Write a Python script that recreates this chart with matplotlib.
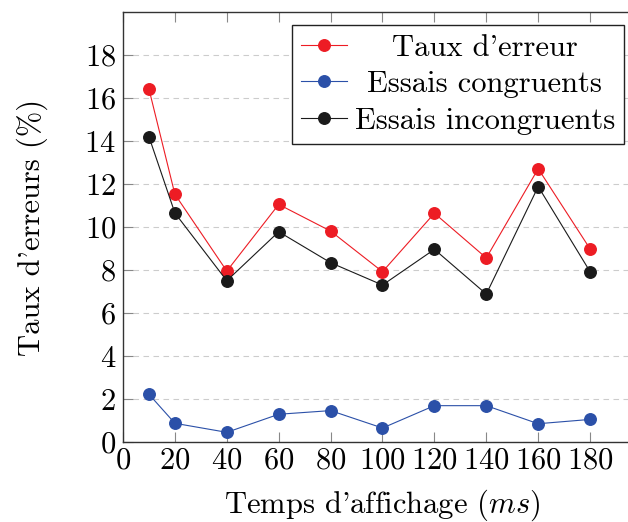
import matplotlib
matplotlib.use('Agg')
import matplotlib.pyplot as plt

# data
temps = [10, 20, 40, 60, 80, 100, 120, 140, 160, 180]
taux = [16.42, 11.52, 7.95, 11.05, 9.81, 7.92, 10.64, 8.56, 12.71, 8.98]
congr = [2.22, 0.87, 0.45, 1.29, 1.46, 0.65, 1.69, 1.69, 0.85, 1.05]
incongr = [14.2, 10.65, 7.5, 9.78, 8.34, 7.30, 8.96, 6.88, 11.88, 7.92]
xticks = [0, 20, 40, 60, 80, 100, 120, 140, 160, 180]
yticks = [0, 2, 4, 6, 8, 10, 12, 14, 16, 18]

plt.rcParams['font.family'] = 'serif'
plt.rcParams['font.serif'] = ['cmr10']
plt.rcParams['mathtext.fontset'] = 'cm'
plt.rcParams['axes.formatter.use_mathtext'] = True

fig = plt.figure(figsize=(6.28, 5.22), dpi=100)
# the right side of the axis runs past the picture edge (cropped)
ax = fig.add_axes([123 / 628, 80 / 522, 519 / 628, 430 / 522])

ms = 8.3
ax.plot(temps, taux, '-o', color='#ed1c24', lw=0.8, ms=ms, label="Taux d'erreur")
ax.plot(temps, congr, '-o', color='#2b50a8', lw=0.8, ms=ms, label='Essais congruents')
ax.plot(temps, incongr, '-o', color='#1a1a1a', lw=0.8, ms=ms, label='Essais incongruents')

ax.set_xlim(0, 200)
ax.set_ylim(0, 20)
ax.set_xticks(xticks)
ax.set_yticks(yticks)
ax.yaxis.grid(True, ls=(0, (5, 4)), color='#cccccc', lw=0.8)
ax.set_axisbelow(True)
ax.tick_params(axis='x', direction='in', top=True, length=7, color='#888888', labelsize=22, pad=4)
ax.tick_params(axis='y', direction='in', length=7, color='#888888', labelsize=22, pad=5)
for s in ax.spines.values():
    s.set_color('#333333')
    s.set_linewidth(1.0)

ax.set_xlabel(r"Temps d'affichage ($ms$)", fontsize=22, labelpad=9)
ax.set_ylabel("Taux d'erreurs (%)", fontsize=22, labelpad=26)

leg = ax.legend(loc='upper right', bbox_to_anchor=(0.9653, 0.9698), fontsize=22,
                frameon=True, fancybox=False, edgecolor='#222222', framealpha=1,
                borderpad=0.3, labelspacing=0.3, handlelength=1.5,
                handletextpad=0.25, borderaxespad=0)
leg.get_frame().set_linewidth(1.0)

# centre the legend texts like pgfplots does
fig.canvas.draw()
r = fig.canvas.get_renderer()
widths = [t.get_window_extent(r).width for t in leg.get_texts()]
wmax = max(widths)
for t, w in zip(leg.get_texts(), widths):
    t.set_position(((wmax - w) / 2, 0))

fig.savefig('out.png', dpi=100)
